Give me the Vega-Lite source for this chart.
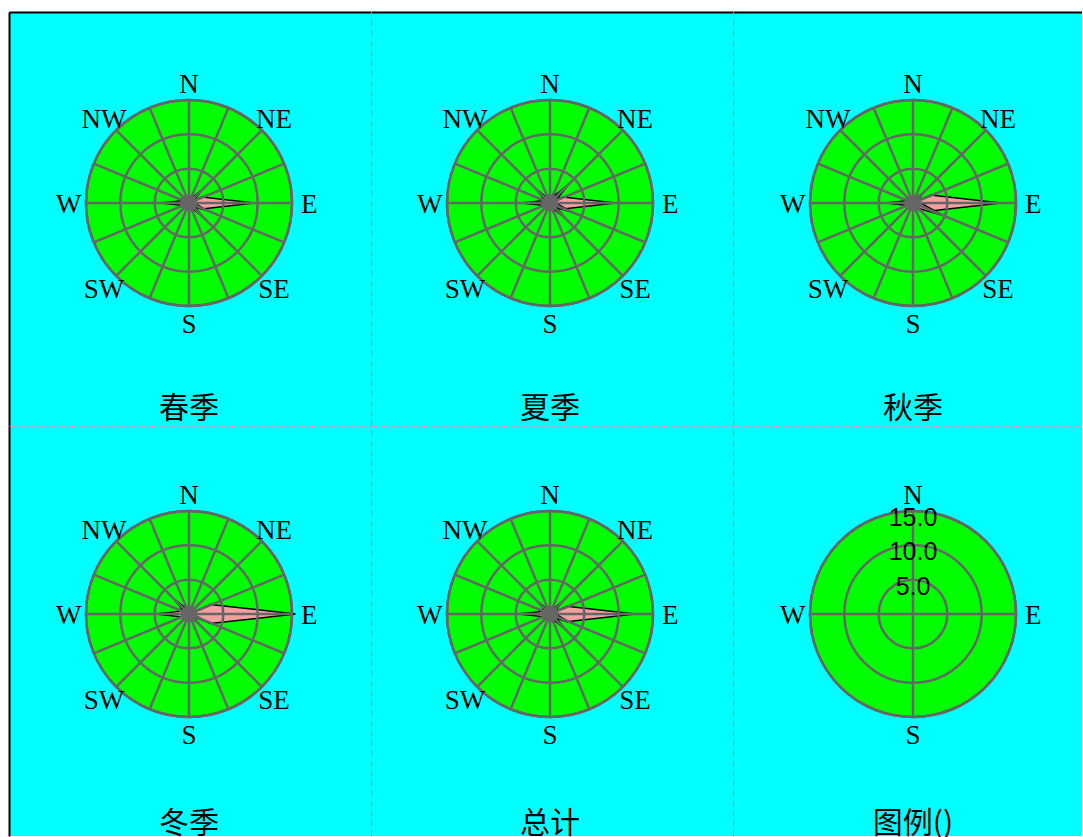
{
"$schema":"https://vega.github.io/schema/vega-lite/v6.json",
"background":"#FFFFFF",
"padding":{"left":9,"top":12,"right":0,"bottom":0},
"bounds":"flush",
"spacing":0,
"columns":3,
"config":{"view":{"fill":"#00FFFF","stroke":null},"concat":{"spacing":0}},
"datasets":{
"one":[{"k":1}],
"rings":[{"r":5,"label":"5.0"},{"r":10,"label":"10.0"},{"r":15,"label":"15.0"}],
"dirs":[{"d":"N","deg":0},{"d":"NNE","deg":22.5},{"d":"NE","deg":45},{"d":"ENE","deg":67.5},{"d":"E","deg":90},{"d":"ESE","deg":112.5},{"d":"SE","deg":135},{"d":"SSE","deg":157.5},{"d":"S","deg":180},{"d":"SSW","deg":202.5},{"d":"SW","deg":225},{"d":"WSW","deg":247.5},{"d":"W","deg":270},{"d":"WNW","deg":292.5},{"d":"NW","deg":315},{"d":"NNW","deg":337.5}],
"lab8":[{"d":"N","deg":0},{"d":"NE","deg":45},{"d":"E","deg":90},{"d":"SE","deg":135},{"d":"S","deg":180},{"d":"SW","deg":225},{"d":"W","deg":270},{"d":"NW","deg":315}],
"lab4":[{"d":"N","deg":0},{"d":"E","deg":90},{"d":"S","deg":180},{"d":"W","deg":270}],
"rose":[
{"s":"春季","d":"N","deg":0,"v":1.5},{"s":"春季","d":"NNE","deg":22.5,"v":1.5},{"s":"春季","d":"NE","deg":45,"v":2.8},{"s":"春季","d":"ENE","deg":67.5,"v":2.0},{"s":"春季","d":"E","deg":90,"v":9.5},{"s":"春季","d":"ESE","deg":112.5,"v":3.0},{"s":"春季","d":"SE","deg":135,"v":2.8},{"s":"春季","d":"SSE","deg":157.5,"v":1.5},{"s":"春季","d":"S","deg":180,"v":1.3},{"s":"春季","d":"SSW","deg":202.5,"v":1.2},{"s":"春季","d":"SW","deg":225,"v":1.2},{"s":"春季","d":"WSW","deg":247.5,"v":1.5},{"s":"春季","d":"W","deg":270,"v":4.1},{"s":"春季","d":"WNW","deg":292.5,"v":1.8},{"s":"春季","d":"NW","deg":315,"v":1.8},{"s":"春季","d":"NNW","deg":337.5,"v":1.3},
{"s":"夏季","d":"N","deg":0,"v":1.5},{"s":"夏季","d":"NNE","deg":22.5,"v":2.0},{"s":"夏季","d":"NE","deg":45,"v":3.9},{"s":"夏季","d":"ENE","deg":67.5,"v":2.5},{"s":"夏季","d":"E","deg":90,"v":9.5},{"s":"夏季","d":"ESE","deg":112.5,"v":3.5},{"s":"夏季","d":"SE","deg":135,"v":3.0},{"s":"夏季","d":"SSE","deg":157.5,"v":2.0},{"s":"夏季","d":"S","deg":180,"v":1.5},{"s":"夏季","d":"SSW","deg":202.5,"v":1.3},{"s":"夏季","d":"SW","deg":225,"v":1.3},{"s":"夏季","d":"WSW","deg":247.5,"v":1.5},{"s":"夏季","d":"W","deg":270,"v":4.1},{"s":"夏季","d":"WNW","deg":292.5,"v":2.0},{"s":"夏季","d":"NW","deg":315,"v":2.9},{"s":"夏季","d":"NNW","deg":337.5,"v":1.5},
{"s":"秋季","d":"N","deg":0,"v":1.3},{"s":"秋季","d":"NNE","deg":22.5,"v":1.5},{"s":"秋季","d":"NE","deg":45,"v":2.3},{"s":"秋季","d":"ENE","deg":67.5,"v":1.8},{"s":"秋季","d":"E","deg":90,"v":12.8},{"s":"秋季","d":"ESE","deg":112.5,"v":4.8},{"s":"秋季","d":"SE","deg":135,"v":2.0},{"s":"秋季","d":"SSE","deg":157.5,"v":1.5},{"s":"秋季","d":"S","deg":180,"v":1.2},{"s":"秋季","d":"SSW","deg":202.5,"v":1.0},{"s":"秋季","d":"SW","deg":225,"v":1.0},{"s":"秋季","d":"WSW","deg":247.5,"v":1.3},{"s":"秋季","d":"W","deg":270,"v":3.9},{"s":"秋季","d":"WNW","deg":292.5,"v":1.5},{"s":"秋季","d":"NW","deg":315,"v":1.5},{"s":"秋季","d":"NNW","deg":337.5,"v":1.2},
{"s":"冬季","d":"N","deg":0,"v":1.2},{"s":"冬季","d":"NNE","deg":22.5,"v":1.2},{"s":"冬季","d":"NE","deg":45,"v":1.5},{"s":"冬季","d":"ENE","deg":67.5,"v":1.5},{"s":"冬季","d":"E","deg":90,"v":15.5},{"s":"冬季","d":"ESE","deg":112.5,"v":2.4},{"s":"冬季","d":"SE","deg":135,"v":2.2},{"s":"冬季","d":"SSE","deg":157.5,"v":1.3},{"s":"冬季","d":"S","deg":180,"v":1.0},{"s":"冬季","d":"SSW","deg":202.5,"v":1.0},{"s":"冬季","d":"SW","deg":225,"v":1.0},{"s":"冬季","d":"WSW","deg":247.5,"v":1.3},{"s":"冬季","d":"W","deg":270,"v":4.8},{"s":"冬季","d":"WNW","deg":292.5,"v":2.0},{"s":"冬季","d":"NW","deg":315,"v":3.2},{"s":"冬季","d":"NNW","deg":337.5,"v":1.3},
{"s":"总计","d":"N","deg":0,"v":1.4},{"s":"总计","d":"NNE","deg":22.5,"v":1.5},{"s":"总计","d":"NE","deg":45,"v":2.7},{"s":"总计","d":"ENE","deg":67.5,"v":2.0},{"s":"总计","d":"E","deg":90,"v":12.4},{"s":"总计","d":"ESE","deg":112.5,"v":3.2},{"s":"总计","d":"SE","deg":135,"v":3.0},{"s":"总计","d":"SSE","deg":157.5,"v":1.5},{"s":"总计","d":"S","deg":180,"v":1.2},{"s":"总计","d":"SSW","deg":202.5,"v":1.1},{"s":"总计","d":"SW","deg":225,"v":1.1},{"s":"总计","d":"WSW","deg":247.5,"v":1.4},{"s":"总计","d":"W","deg":270,"v":4.6},{"s":"总计","d":"WNW","deg":292.5,"v":1.8},{"s":"总计","d":"NW","deg":315,"v":2.7},{"s":"总计","d":"NNW","deg":337.5,"v":1.3}
]
},
"concat":[
{"width":362,"height":414,"data":{"name":"one"},"resolve":{"axis":{"x":"independent","y":"independent"}},"layer":[
{"mark":{"type":"point","shape":"circle","filled":true,"fill":"#00FF00","stroke":"#666666","strokeWidth":2.5,"opacity":1},
"encoding":{"x":{"datum":0,"type":"quantitative","scale":{"domain":[-180,182]},"axis":{"orient":"top","domainColor":"#000000","domainWidth":2,"ticks":false,"labels":false,"grid":false,"title":null}},
"y":{"datum":0,"type":"quantitative","scale":{"domain":[-223,191]},"axis":{"orient":"left","domainColor":"#000000","domainWidth":2,"ticks":false,"labels":false,"grid":false,"title":null}},
"size":{"datum":15,"type":"quantitative","scale":{"type":"pow","exponent":2,"domain":[0,15],"range":[0,42436]},"legend":null}}},
{"data":{"name":"rose"},"transform":[{"filter":{"field":"s","equal":"春季"}}],
"mark":{"type":"point","shape":"M0,0L0.09,-0.2L0,-1L-0.09,-0.2Z","filled":true,"fill":"#F4A0A0","stroke":"#000000","strokeWidth":1.5,"opacity":1},
"encoding":{"x":{"datum":0,"type":"quantitative","scale":{"domain":[-180,182]},"axis":null},"y":{"datum":0,"type":"quantitative","scale":{"domain":[-223,191]},"axis":null},
"size":{"field":"v","type":"quantitative","scale":{"type":"pow","exponent":2,"domain":[0,15],"range":[0,42436]},"legend":null},
"angle":{"field":"deg","type":"quantitative","scale":{"domain":[0,360],"range":[0,360]},"legend":null}}},
{"data":{"name":"rings"},
"mark":{"type":"point","shape":"circle","filled":false,"stroke":"#666666","strokeWidth":2.5,"opacity":1},
"encoding":{"x":{"datum":0,"type":"quantitative","scale":{"domain":[-180,182]},"axis":null},"y":{"datum":0,"type":"quantitative","scale":{"domain":[-223,191]},"axis":null},
"size":{"field":"r","type":"quantitative","scale":{"type":"pow","exponent":2,"domain":[0,15],"range":[0,42436]},"legend":null}}},
{"data":{"name":"dirs"},
"mark":{"type":"point","shape":"M0,0L0,-1","filled":false,"stroke":"#666666","strokeWidth":2.5,"opacity":1},
"encoding":{"x":{"datum":0,"type":"quantitative","scale":{"domain":[-180,182]},"axis":null},"y":{"datum":0,"type":"quantitative","scale":{"domain":[-223,191]},"axis":null},
"size":{"datum":15,"type":"quantitative","scale":{"type":"pow","exponent":2,"domain":[0,15],"range":[0,42436]},"legend":null},
"angle":{"field":"deg","type":"quantitative","scale":{"domain":[0,360],"range":[0,360]},"legend":null}}},
{"mark":{"type":"point","shape":"circle","filled":true,"fill":"#666666","strokeWidth":0,"opacity":1},
"encoding":{"x":{"datum":0,"type":"quantitative","scale":{"domain":[-180,182]},"axis":null},"y":{"datum":0,"type":"quantitative","scale":{"domain":[-223,191]},"axis":null},
"size":{"datum":1.2,"type":"quantitative","scale":{"type":"pow","exponent":2,"domain":[0,15],"range":[0,42436]},"legend":null}}},
{"data":{"name":"lab8"},
"mark":{"type":"text","font":"Liberation Serif","fontSize":27,"align":"center","baseline":"middle","dy":2,"fill":"#000000"},
"encoding":{"x":{"datum":0,"type":"quantitative","scale":{"domain":[-180,182]},"axis":null},"y":{"datum":0,"type":"quantitative","scale":{"domain":[-223,191]},"axis":null},
"theta":{"field":"deg","type":"quantitative","scale":{"domain":[0,360],"range":[0,6.283185307179586]}},
"radius":{"datum":17.5,"type":"quantitative","scale":{"type":"linear","domain":[0,15],"range":[0,103],"zero":true}},
"text":{"field":"d"}}},
{"mark":{"type":"text","font":"Noto Sans CJK SC","fontSize":30,"align":"center","baseline":"middle","fill":"#000000"},
"encoding":{"x":{"datum":0,"type":"quantitative","scale":{"domain":[-180,182]},"axis":null},"y":{"datum":-206,"type":"quantitative","scale":{"domain":[-223,191]},"axis":null},"text":{"value":"春季"}}}
]},
{"width":362,"height":414,"data":{"name":"one"},"resolve":{"axis":{"x":"independent","y":"independent"}},"layer":[
{"mark":{"type":"point","shape":"circle","filled":true,"fill":"#00FF00","stroke":"#666666","strokeWidth":2.5,"opacity":1},
"encoding":{"x":{"datum":0,"type":"quantitative","scale":{"domain":[-179,183]},"axis":{"orient":"top","domainColor":"#000000","domainWidth":2,"ticks":false,"labels":false,"grid":false,"title":null}},
"y":{"datum":0,"type":"quantitative","scale":{"domain":[-223,191]},"axis":{"orient":"left","domainColor":"#999999","domainWidth":1.2,"domainDash":[6,4],"ticks":false,"labels":false,"grid":false,"title":null}},
"size":{"datum":15,"type":"quantitative","scale":{"type":"pow","exponent":2,"domain":[0,15],"range":[0,42436]},"legend":null}}},
{"data":{"name":"rose"},"transform":[{"filter":{"field":"s","equal":"夏季"}}],
"mark":{"type":"point","shape":"M0,0L0.09,-0.2L0,-1L-0.09,-0.2Z","filled":true,"fill":"#F4A0A0","stroke":"#000000","strokeWidth":1.5,"opacity":1},
"encoding":{"x":{"datum":0,"type":"quantitative","scale":{"domain":[-179,183]},"axis":null},"y":{"datum":0,"type":"quantitative","scale":{"domain":[-223,191]},"axis":null},
"size":{"field":"v","type":"quantitative","scale":{"type":"pow","exponent":2,"domain":[0,15],"range":[0,42436]},"legend":null},
"angle":{"field":"deg","type":"quantitative","scale":{"domain":[0,360],"range":[0,360]},"legend":null}}},
{"data":{"name":"rings"},
"mark":{"type":"point","shape":"circle","filled":false,"stroke":"#666666","strokeWidth":2.5,"opacity":1},
"encoding":{"x":{"datum":0,"type":"quantitative","scale":{"domain":[-179,183]},"axis":null},"y":{"datum":0,"type":"quantitative","scale":{"domain":[-223,191]},"axis":null},
"size":{"field":"r","type":"quantitative","scale":{"type":"pow","exponent":2,"domain":[0,15],"range":[0,42436]},"legend":null}}},
{"data":{"name":"dirs"},
"mark":{"type":"point","shape":"M0,0L0,-1","filled":false,"stroke":"#666666","strokeWidth":2.5,"opacity":1},
"encoding":{"x":{"datum":0,"type":"quantitative","scale":{"domain":[-179,183]},"axis":null},"y":{"datum":0,"type":"quantitative","scale":{"domain":[-223,191]},"axis":null},
"size":{"datum":15,"type":"quantitative","scale":{"type":"pow","exponent":2,"domain":[0,15],"range":[0,42436]},"legend":null},
"angle":{"field":"deg","type":"quantitative","scale":{"domain":[0,360],"range":[0,360]},"legend":null}}},
{"mark":{"type":"point","shape":"circle","filled":true,"fill":"#666666","strokeWidth":0,"opacity":1},
"encoding":{"x":{"datum":0,"type":"quantitative","scale":{"domain":[-179,183]},"axis":null},"y":{"datum":0,"type":"quantitative","scale":{"domain":[-223,191]},"axis":null},
"size":{"datum":1.2,"type":"quantitative","scale":{"type":"pow","exponent":2,"domain":[0,15],"range":[0,42436]},"legend":null}}},
{"data":{"name":"lab8"},
"mark":{"type":"text","font":"Liberation Serif","fontSize":27,"align":"center","baseline":"middle","dy":2,"fill":"#000000"},
"encoding":{"x":{"datum":0,"type":"quantitative","scale":{"domain":[-179,183]},"axis":null},"y":{"datum":0,"type":"quantitative","scale":{"domain":[-223,191]},"axis":null},
"theta":{"field":"deg","type":"quantitative","scale":{"domain":[0,360],"range":[0,6.283185307179586]}},
"radius":{"datum":17.5,"type":"quantitative","scale":{"type":"linear","domain":[0,15],"range":[0,103],"zero":true}},
"text":{"field":"d"}}},
{"mark":{"type":"text","font":"Noto Sans CJK SC","fontSize":30,"align":"center","baseline":"middle","fill":"#000000"},
"encoding":{"x":{"datum":0,"type":"quantitative","scale":{"domain":[-179,183]},"axis":null},"y":{"datum":-206,"type":"quantitative","scale":{"domain":[-223,191]},"axis":null},"text":{"value":"夏季"}}}
]},
{"width":349,"height":414,"data":{"name":"one"},"resolve":{"axis":{"x":"independent","y":"independent"}},"layer":[
{"mark":{"type":"point","shape":"circle","filled":true,"fill":"#00FF00","stroke":"#666666","strokeWidth":2.5,"opacity":1},
"encoding":{"x":{"datum":0,"type":"quantitative","scale":{"domain":[-180,169]},"axis":{"orient":"top","domainColor":"#000000","domainWidth":2,"ticks":false,"labels":false,"grid":false,"title":null}},
"y":{"datum":0,"type":"quantitative","scale":{"domain":[-223,191]},"axis":{"orient":"left","domainColor":"#999999","domainWidth":1.2,"domainDash":[6,4],"ticks":false,"labels":false,"grid":false,"title":null}},
"size":{"datum":15,"type":"quantitative","scale":{"type":"pow","exponent":2,"domain":[0,15],"range":[0,42436]},"legend":null}}},
{"data":{"name":"rose"},"transform":[{"filter":{"field":"s","equal":"秋季"}}],
"mark":{"type":"point","shape":"M0,0L0.09,-0.2L0,-1L-0.09,-0.2Z","filled":true,"fill":"#F4A0A0","stroke":"#000000","strokeWidth":1.5,"opacity":1},
"encoding":{"x":{"datum":0,"type":"quantitative","scale":{"domain":[-180,169]},"axis":null},"y":{"datum":0,"type":"quantitative","scale":{"domain":[-223,191]},"axis":null},
"size":{"field":"v","type":"quantitative","scale":{"type":"pow","exponent":2,"domain":[0,15],"range":[0,42436]},"legend":null},
"angle":{"field":"deg","type":"quantitative","scale":{"domain":[0,360],"range":[0,360]},"legend":null}}},
{"data":{"name":"rings"},
"mark":{"type":"point","shape":"circle","filled":false,"stroke":"#666666","strokeWidth":2.5,"opacity":1},
"encoding":{"x":{"datum":0,"type":"quantitative","scale":{"domain":[-180,169]},"axis":null},"y":{"datum":0,"type":"quantitative","scale":{"domain":[-223,191]},"axis":null},
"size":{"field":"r","type":"quantitative","scale":{"type":"pow","exponent":2,"domain":[0,15],"range":[0,42436]},"legend":null}}},
{"data":{"name":"dirs"},
"mark":{"type":"point","shape":"M0,0L0,-1","filled":false,"stroke":"#666666","strokeWidth":2.5,"opacity":1},
"encoding":{"x":{"datum":0,"type":"quantitative","scale":{"domain":[-180,169]},"axis":null},"y":{"datum":0,"type":"quantitative","scale":{"domain":[-223,191]},"axis":null},
"size":{"datum":15,"type":"quantitative","scale":{"type":"pow","exponent":2,"domain":[0,15],"range":[0,42436]},"legend":null},
"angle":{"field":"deg","type":"quantitative","scale":{"domain":[0,360],"range":[0,360]},"legend":null}}},
{"mark":{"type":"point","shape":"circle","filled":true,"fill":"#666666","strokeWidth":0,"opacity":1},
"encoding":{"x":{"datum":0,"type":"quantitative","scale":{"domain":[-180,169]},"axis":null},"y":{"datum":0,"type":"quantitative","scale":{"domain":[-223,191]},"axis":null},
"size":{"datum":1.2,"type":"quantitative","scale":{"type":"pow","exponent":2,"domain":[0,15],"range":[0,42436]},"legend":null}}},
{"data":{"name":"lab8"},
"mark":{"type":"text","font":"Liberation Serif","fontSize":27,"align":"center","baseline":"middle","dy":2,"fill":"#000000"},
"encoding":{"x":{"datum":0,"type":"quantitative","scale":{"domain":[-180,169]},"axis":null},"y":{"datum":0,"type":"quantitative","scale":{"domain":[-223,191]},"axis":null},
"theta":{"field":"deg","type":"quantitative","scale":{"domain":[0,360],"range":[0,6.283185307179586]}},
"radius":{"datum":17.5,"type":"quantitative","scale":{"type":"linear","domain":[0,15],"range":[0,103],"zero":true}},
"text":{"field":"d"}}},
{"mark":{"type":"text","font":"Noto Sans CJK SC","fontSize":30,"align":"center","baseline":"middle","fill":"#000000"},
"encoding":{"x":{"datum":0,"type":"quantitative","scale":{"domain":[-180,169]},"axis":null},"y":{"datum":-206,"type":"quantitative","scale":{"domain":[-223,191]},"axis":null},"text":{"value":"秋季"}}}
]},
{"width":362,"height":410,"data":{"name":"one"},"resolve":{"axis":{"x":"independent","y":"independent"}},"layer":[
{"mark":{"type":"point","shape":"circle","filled":true,"fill":"#00FF00","stroke":"#666666","strokeWidth":2.5,"opacity":1},
"encoding":{"x":{"datum":0,"type":"quantitative","scale":{"domain":[-180,182]},"axis":{"orient":"top","domainColor":"#AAAAAA","domainWidth":1,"domainDash":[6,4],"ticks":false,"labels":false,"grid":false,"title":null}},
"y":{"datum":0,"type":"quantitative","scale":{"domain":[-222,188]},"axis":{"orient":"left","domainColor":"#000000","domainWidth":2,"ticks":false,"labels":false,"grid":false,"title":null}},
"size":{"datum":15,"type":"quantitative","scale":{"type":"pow","exponent":2,"domain":[0,15],"range":[0,42436]},"legend":null}}},
{"data":{"name":"rose"},"transform":[{"filter":{"field":"s","equal":"冬季"}}],
"mark":{"type":"point","shape":"M0,0L0.09,-0.2L0,-1L-0.09,-0.2Z","filled":true,"fill":"#F4A0A0","stroke":"#000000","strokeWidth":1.5,"opacity":1},
"encoding":{"x":{"datum":0,"type":"quantitative","scale":{"domain":[-180,182]},"axis":null},"y":{"datum":0,"type":"quantitative","scale":{"domain":[-222,188]},"axis":null},
"size":{"field":"v","type":"quantitative","scale":{"type":"pow","exponent":2,"domain":[0,15],"range":[0,42436]},"legend":null},
"angle":{"field":"deg","type":"quantitative","scale":{"domain":[0,360],"range":[0,360]},"legend":null}}},
{"data":{"name":"rings"},
"mark":{"type":"point","shape":"circle","filled":false,"stroke":"#666666","strokeWidth":2.5,"opacity":1},
"encoding":{"x":{"datum":0,"type":"quantitative","scale":{"domain":[-180,182]},"axis":null},"y":{"datum":0,"type":"quantitative","scale":{"domain":[-222,188]},"axis":null},
"size":{"field":"r","type":"quantitative","scale":{"type":"pow","exponent":2,"domain":[0,15],"range":[0,42436]},"legend":null}}},
{"data":{"name":"dirs"},
"mark":{"type":"point","shape":"M0,0L0,-1","filled":false,"stroke":"#666666","strokeWidth":2.5,"opacity":1},
"encoding":{"x":{"datum":0,"type":"quantitative","scale":{"domain":[-180,182]},"axis":null},"y":{"datum":0,"type":"quantitative","scale":{"domain":[-222,188]},"axis":null},
"size":{"datum":15,"type":"quantitative","scale":{"type":"pow","exponent":2,"domain":[0,15],"range":[0,42436]},"legend":null},
"angle":{"field":"deg","type":"quantitative","scale":{"domain":[0,360],"range":[0,360]},"legend":null}}},
{"mark":{"type":"point","shape":"circle","filled":true,"fill":"#666666","strokeWidth":0,"opacity":1},
"encoding":{"x":{"datum":0,"type":"quantitative","scale":{"domain":[-180,182]},"axis":null},"y":{"datum":0,"type":"quantitative","scale":{"domain":[-222,188]},"axis":null},
"size":{"datum":1.2,"type":"quantitative","scale":{"type":"pow","exponent":2,"domain":[0,15],"range":[0,42436]},"legend":null}}},
{"data":{"name":"lab8"},
"mark":{"type":"text","font":"Liberation Serif","fontSize":27,"align":"center","baseline":"middle","dy":2,"fill":"#000000"},
"encoding":{"x":{"datum":0,"type":"quantitative","scale":{"domain":[-180,182]},"axis":null},"y":{"datum":0,"type":"quantitative","scale":{"domain":[-222,188]},"axis":null},
"theta":{"field":"deg","type":"quantitative","scale":{"domain":[0,360],"range":[0,6.283185307179586]}},
"radius":{"datum":17.5,"type":"quantitative","scale":{"type":"linear","domain":[0,15],"range":[0,103],"zero":true}},
"text":{"field":"d"}}},
{"mark":{"type":"text","font":"Noto Sans CJK SC","fontSize":30,"align":"center","baseline":"middle","fill":"#000000"},
"encoding":{"x":{"datum":0,"type":"quantitative","scale":{"domain":[-180,182]},"axis":null},"y":{"datum":-210,"type":"quantitative","scale":{"domain":[-222,188]},"axis":null},"text":{"value":"冬季"}}}
]},
{"width":362,"height":410,"data":{"name":"one"},"resolve":{"axis":{"x":"independent","y":"independent"}},"layer":[
{"mark":{"type":"point","shape":"circle","filled":true,"fill":"#00FF00","stroke":"#666666","strokeWidth":2.5,"opacity":1},
"encoding":{"x":{"datum":0,"type":"quantitative","scale":{"domain":[-179,183]},"axis":{"orient":"top","domainColor":"#AAAAAA","domainWidth":1,"domainDash":[6,4],"ticks":false,"labels":false,"grid":false,"title":null}},
"y":{"datum":0,"type":"quantitative","scale":{"domain":[-222,188]},"axis":{"orient":"left","domainColor":"#999999","domainWidth":1.2,"domainDash":[6,4],"ticks":false,"labels":false,"grid":false,"title":null}},
"size":{"datum":15,"type":"quantitative","scale":{"type":"pow","exponent":2,"domain":[0,15],"range":[0,42436]},"legend":null}}},
{"data":{"name":"rose"},"transform":[{"filter":{"field":"s","equal":"总计"}}],
"mark":{"type":"point","shape":"M0,0L0.09,-0.2L0,-1L-0.09,-0.2Z","filled":true,"fill":"#F4A0A0","stroke":"#000000","strokeWidth":1.5,"opacity":1},
"encoding":{"x":{"datum":0,"type":"quantitative","scale":{"domain":[-179,183]},"axis":null},"y":{"datum":0,"type":"quantitative","scale":{"domain":[-222,188]},"axis":null},
"size":{"field":"v","type":"quantitative","scale":{"type":"pow","exponent":2,"domain":[0,15],"range":[0,42436]},"legend":null},
"angle":{"field":"deg","type":"quantitative","scale":{"domain":[0,360],"range":[0,360]},"legend":null}}},
{"data":{"name":"rings"},
"mark":{"type":"point","shape":"circle","filled":false,"stroke":"#666666","strokeWidth":2.5,"opacity":1},
"encoding":{"x":{"datum":0,"type":"quantitative","scale":{"domain":[-179,183]},"axis":null},"y":{"datum":0,"type":"quantitative","scale":{"domain":[-222,188]},"axis":null},
"size":{"field":"r","type":"quantitative","scale":{"type":"pow","exponent":2,"domain":[0,15],"range":[0,42436]},"legend":null}}},
{"data":{"name":"dirs"},
"mark":{"type":"point","shape":"M0,0L0,-1","filled":false,"stroke":"#666666","strokeWidth":2.5,"opacity":1},
"encoding":{"x":{"datum":0,"type":"quantitative","scale":{"domain":[-179,183]},"axis":null},"y":{"datum":0,"type":"quantitative","scale":{"domain":[-222,188]},"axis":null},
"size":{"datum":15,"type":"quantitative","scale":{"type":"pow","exponent":2,"domain":[0,15],"range":[0,42436]},"legend":null},
"angle":{"field":"deg","type":"quantitative","scale":{"domain":[0,360],"range":[0,360]},"legend":null}}},
{"mark":{"type":"point","shape":"circle","filled":true,"fill":"#666666","strokeWidth":0,"opacity":1},
"encoding":{"x":{"datum":0,"type":"quantitative","scale":{"domain":[-179,183]},"axis":null},"y":{"datum":0,"type":"quantitative","scale":{"domain":[-222,188]},"axis":null},
"size":{"datum":1.2,"type":"quantitative","scale":{"type":"pow","exponent":2,"domain":[0,15],"range":[0,42436]},"legend":null}}},
{"data":{"name":"lab8"},
"mark":{"type":"text","font":"Liberation Serif","fontSize":27,"align":"center","baseline":"middle","dy":2,"fill":"#000000"},
"encoding":{"x":{"datum":0,"type":"quantitative","scale":{"domain":[-179,183]},"axis":null},"y":{"datum":0,"type":"quantitative","scale":{"domain":[-222,188]},"axis":null},
"theta":{"field":"deg","type":"quantitative","scale":{"domain":[0,360],"range":[0,6.283185307179586]}},
"radius":{"datum":17.5,"type":"quantitative","scale":{"type":"linear","domain":[0,15],"range":[0,103],"zero":true}},
"text":{"field":"d"}}},
{"mark":{"type":"text","font":"Noto Sans CJK SC","fontSize":30,"align":"center","baseline":"middle","fill":"#000000"},
"encoding":{"x":{"datum":0,"type":"quantitative","scale":{"domain":[-179,183]},"axis":null},"y":{"datum":-210,"type":"quantitative","scale":{"domain":[-222,188]},"axis":null},"text":{"value":"总计"}}}
]},
{"width":349,"height":410,"data":{"name":"one"},"resolve":{"axis":{"x":"independent","y":"independent"}},"layer":[
{"mark":{"type":"point","shape":"circle","filled":true,"fill":"#00FF00","stroke":"#666666","strokeWidth":2.5,"opacity":1},
"encoding":{"x":{"datum":0,"type":"quantitative","scale":{"domain":[-180,169]},"axis":{"orient":"top","domainColor":"#AAAAAA","domainWidth":1,"domainDash":[6,4],"ticks":false,"labels":false,"grid":false,"title":null}},
"y":{"datum":0,"type":"quantitative","scale":{"domain":[-222,188]},"axis":{"orient":"left","domainColor":"#999999","domainWidth":1.2,"domainDash":[6,4],"ticks":false,"labels":false,"grid":false,"title":null}},
"size":{"datum":15,"type":"quantitative","scale":{"type":"pow","exponent":2,"domain":[0,15],"range":[0,42436]},"legend":null}}},
{"data":{"name":"rings"},
"mark":{"type":"point","shape":"circle","filled":false,"stroke":"#666666","strokeWidth":2.5,"opacity":1},
"encoding":{"x":{"datum":0,"type":"quantitative","scale":{"domain":[-180,169]},"axis":null},"y":{"datum":0,"type":"quantitative","scale":{"domain":[-222,188]},"axis":null},
"size":{"field":"r","type":"quantitative","scale":{"type":"pow","exponent":2,"domain":[0,15],"range":[0,42436]},"legend":null}}},
{"data":{"name":"lab4"},
"mark":{"type":"point","shape":"M0,0L0,-1","filled":false,"stroke":"#666666","strokeWidth":2.5,"opacity":1},
"encoding":{"x":{"datum":0,"type":"quantitative","scale":{"domain":[-180,169]},"axis":null},"y":{"datum":0,"type":"quantitative","scale":{"domain":[-222,188]},"axis":null},
"size":{"datum":15,"type":"quantitative","scale":{"type":"pow","exponent":2,"domain":[0,15],"range":[0,42436]},"legend":null},
"angle":{"field":"deg","type":"quantitative","scale":{"domain":[0,360],"range":[0,360]},"legend":null}}},
{"data":{"name":"lab4"},
"mark":{"type":"text","font":"Liberation Serif","fontSize":27,"align":"center","baseline":"middle","dy":2,"fill":"#000000"},
"encoding":{"x":{"datum":0,"type":"quantitative","scale":{"domain":[-180,169]},"axis":null},"y":{"datum":0,"type":"quantitative","scale":{"domain":[-222,188]},"axis":null},
"theta":{"field":"deg","type":"quantitative","scale":{"domain":[0,360],"range":[0,6.283185307179586]}},
"radius":{"datum":17.5,"type":"quantitative","scale":{"type":"linear","domain":[0,15],"range":[0,103],"zero":true}},
"text":{"field":"d"}}},
{"data":{"name":"rings"},
"mark":{"type":"text","font":"Liberation Sans","fontSize":25,"align":"center","baseline":"middle","dy":7,"fill":"#000000"},
"encoding":{"x":{"datum":0,"type":"quantitative","scale":{"domain":[-180,169]},"axis":null},"y":{"datum":0,"type":"quantitative","scale":{"domain":[-222,188]},"axis":null},
"theta":{"datum":0,"type":"quantitative","scale":{"domain":[0,360],"range":[0,6.283185307179586]}},
"radius":{"field":"r","type":"quantitative","scale":{"type":"linear","domain":[0,15],"range":[0,103],"zero":true}},
"text":{"field":"label"}}},
{"mark":{"type":"text","font":"Noto Sans CJK SC","fontSize":30,"align":"center","baseline":"middle","fill":"#000000"},
"encoding":{"x":{"datum":0,"type":"quantitative","scale":{"domain":[-180,169]},"axis":null},"y":{"datum":-210,"type":"quantitative","scale":{"domain":[-222,188]},"axis":null},"text":{"value":"图例()"}}}
]}
]
}
